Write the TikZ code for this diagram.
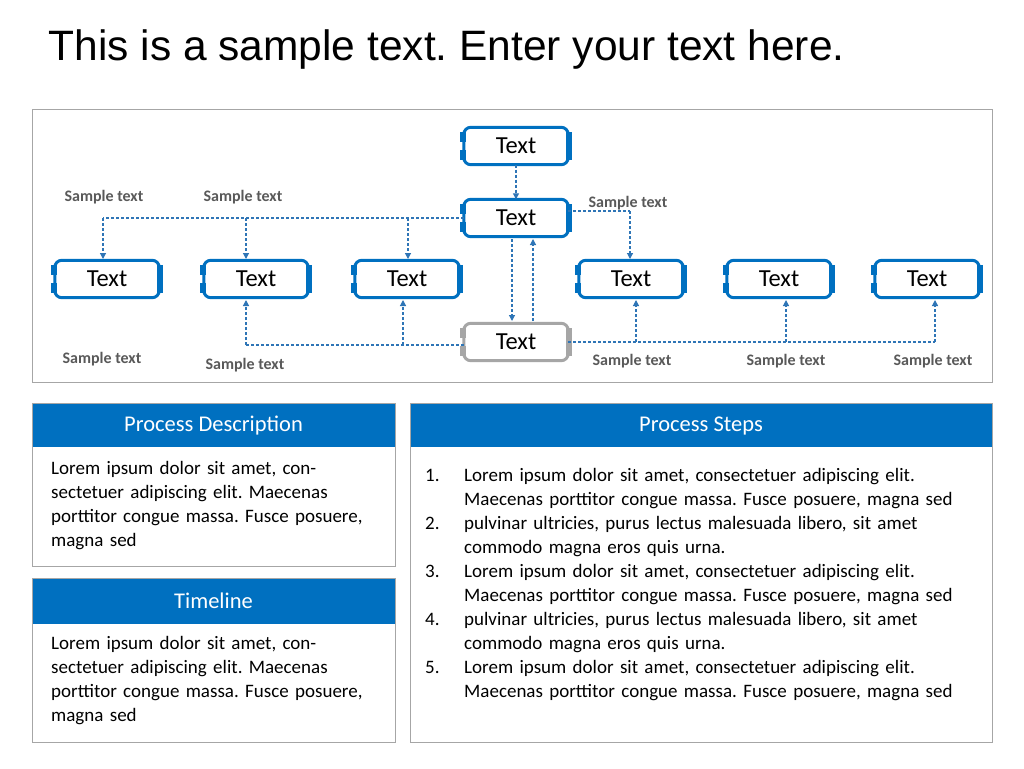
\documentclass[tikz,border=0pt]{standalone}
\usepackage{fontspec}
\setmainfont{Carlito}
\newfontfamily\titlefont{Liberation Sans}
\usetikzlibrary{arrows.meta}
\definecolor{cblue}{HTML}{0070C0}
\definecolor{cline}{HTML}{2E75B6}
\definecolor{cgray}{HTML}{A6A6A6}
\definecolor{ctext}{HTML}{595959}
\begin{document}
\frenchspacing
\begin{tikzpicture}[x=1pt,y=-1pt,
  conn/.style={cline,line width=1.2pt,dash pattern=on 3pt off 2pt},
  arr/.style={conn,-{Triangle[length=6pt,width=6pt]}},
  lab/.style={font=\fontsize{16}{18}\selectfont\bfseries,text=ctext},
  body/.style={font=\fontsize{19}{24}\selectfont,align=left,anchor=north west,inner sep=0pt,text width=325pt},
  hdr/.style={font=\fontsize{22.5}{26}\selectfont,text=white}]
\useasboundingbox (0,0) rectangle (1024,768);
\fill[white] (0,0) rectangle (1024,768);
\node[anchor=west,font=\titlefont\fontsize{42.5}{46}\selectfont] (title) at (45,50) {This is a sample text. Enter your text here.};
\draw[cgray,line width=1pt] (32,109) rectangle (992,382);
\newcommand\tbox[4]{% name, cx, cy, color
  \node[minimum width=104pt,minimum height=37pt,inner sep=0pt,font=\fontsize{24.5}{26}\selectfont] (#1) at (#2,#3) {Text};
  \draw[#4,line width=3pt,rounded corners=7pt] (#1.north west) rectangle (#1.south east);
  \draw[#4,line width=6pt] ([xshift=0.5pt,yshift=-5pt]#1.north east) -- ([xshift=0.5pt,yshift=5pt]#1.south east);
  \draw[#4,line width=6pt] ([xshift=-0.5pt,yshift=-5pt]#1.north west) -- ([xshift=-0.5pt,yshift=4pt]#1.west);
  \draw[#4,line width=6pt] ([xshift=-0.5pt,yshift=5pt]#1.south west) -- ([xshift=-0.5pt,yshift=-4pt]#1.west);
}
\tbox{t0}{516}{146}{cblue}
\tbox{t1}{516}{218}{cblue}
\tbox{a}{107}{279}{cblue}
\tbox{b}{256}{279}{cblue}
\tbox{c}{407}{279}{cblue}
\tbox{d}{631}{279}{cblue}
\tbox{e}{779}{279}{cblue}
\tbox{f}{927}{279}{cblue}
\tbox{g}{516}{342}{cgray}
% connectors
\draw[arr] (t0.south) -- (t1.north);
\draw[conn] (t1.west) -- (103,218);
\draw[arr] (103,218) -- (103,259);
\draw[arr] (246,218) -- (246,259);
\draw[arr] (408,218) -- (408,259);
\draw[conn] ([yshift=7pt]t1.east) -- (630,211);
\draw[arr] (630,211) -- (630,259);
\draw[arr] (512,239) -- (512,321);
\draw[arr] (533,321) -- (533,239);
\draw[conn] ([yshift=-3pt]g.west) -- (246,345);
\draw[arr] (246,345) -- (246,300);
\draw[arr] (403,345) -- (403,300);
\draw[conn] (g.east) -- (935,342);
\draw[arr] (636,342) -- (636,300);
\draw[arr] (786,342) -- (786,300);
\draw[arr] (935,342) -- (935,300);
% labels
\node[lab] (l1) at (104,197) {Sample text};
\node[lab] (l2) at (243,197) {Sample text};
\node[lab] (l3) at (628,203) {Sample text};
\node[lab] (l4) at (102,359) {Sample text};
\node[lab] (l5) at (245,365) {Sample text};
\node[lab] (l6) at (632,361) {Sample text};
\node[lab] (l7) at (786,361) {Sample text};
\node[lab] (l8) at (933,361) {Sample text};
% panels
\fill[cblue] (32,403) rectangle (395,447);
\draw[cgray,line width=0.8pt] (32,403) rectangle (395,566);
\node[hdr] (h1) at (213.5,426) {Process Description};
\node[body] (b1) at (51,461) {Lorem ipsum dolor sit amet, consectetuer adipiscing elit. Maecenas porttitor congue massa. Fusce posuere, magna sed};
\fill[cblue] (32,578) rectangle (395,624);
\draw[cgray,line width=0.8pt] (32,578) rectangle (395,742);
\node[hdr] (h2) at (213.5,601) {Timeline};
\node[body] (b2) at (51,636) {Lorem ipsum dolor sit amet, consectetuer adipiscing elit. Maecenas porttitor congue massa. Fusce posuere, magna sed};
\fill[cblue] (410,403) rectangle (992,447);
\draw[cgray,line width=0.8pt] (410,403) rectangle (992,742);
\node[hdr] (h3) at (701,426) {Process Steps};
\node[body,text width=560pt] (b3) at (425,468) {%
\makebox[39pt][l]{1.}Lorem ipsum dolor sit amet, consectetuer adipiscing elit.\\
\hspace*{39pt}Maecenas porttitor congue massa. Fusce posuere, magna sed\\
\makebox[39pt][l]{2.}pulvinar ultricies, purus lectus malesuada libero, sit amet\\
\hspace*{39pt}commodo magna eros quis urna.\\
\makebox[39pt][l]{3.}Lorem ipsum dolor sit amet, consectetuer adipiscing elit.\\
\hspace*{39pt}Maecenas porttitor congue massa. Fusce posuere, magna sed\\
\makebox[39pt][l]{4.}pulvinar ultricies, purus lectus malesuada libero, sit amet\\
\hspace*{39pt}commodo magna eros quis urna.\\
\makebox[39pt][l]{5.}Lorem ipsum dolor sit amet, consectetuer adipiscing elit.\\
\hspace*{39pt}Maecenas porttitor congue massa. Fusce posuere, magna sed};
\end{tikzpicture}
\end{document}
